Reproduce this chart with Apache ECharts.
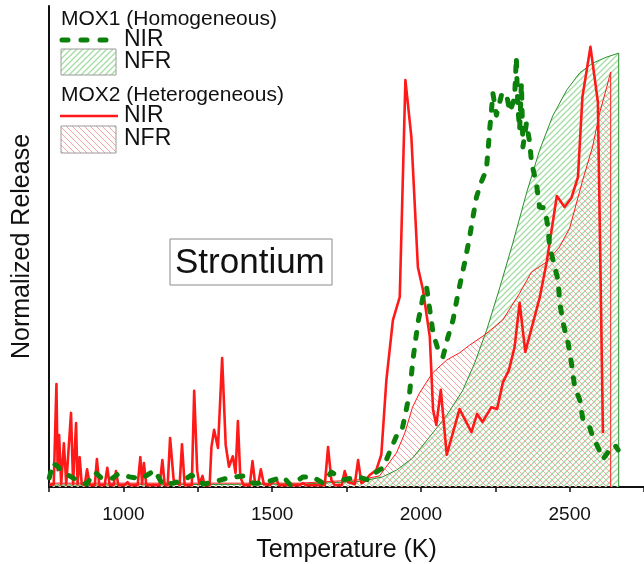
<!DOCTYPE html>
<html>
<head>
<meta charset="utf-8">
<script src="https://cdn.jsdelivr.net/npm/echarts@6/dist/echarts.min.js"></script>
<style>
  html, body { margin: 0; padding: 0; background: #fff; }
  #chart { width: 644px; height: 564px; }
</style>
</head>
<body>
<div id="chart"></div>
<script>
// Temperature (K) / normalized release pairs for each curve.
const mox1Nir = [[751,.019],[763,.050],[780,.042],[797,.031],[814,.025],[842,.015],[876,.006],[904,.031],[926,.019],[960,.017],[982,.027],[1021,.021],[1061,.017],[1105,.035],[1133,.004],[1167,.008],[1206,.015],[1229,.025],[1268,.006],[1301,.010],[1352,.019],[1402,.023],[1436,.008],[1469,.008],[1537,.021],[1562,.004],[1604,.021],[1637,.021],[1671,.008],[1699,.031],[1738,.015],[1789,.021],[1822,.015],[1845,.029],[1873,.040],[1895,.073],[1918,.106],[1935,.114],[1946,.146],[1962,.195],[1974,.268],[1990,.341],[2007,.395],[2019,.416],[2030,.368],[2041,.320],[2058,.285],[2074,.270],[2091,.312],[2108,.347],[2125,.403],[2147,.466],[2164,.520],[2175,.561],[2187,.603],[2203,.634],[2220,.659],[2226,.701],[2231,.742],[2237,.780],[2242,.819],[2254,.773],[2271,.815],[2287,.819],[2299,.780],[2315,.809],[2321,.894],[2323,.846],[2326,.790],[2332,.742],[2338,.840],[2343,.707],[2355,.757],[2366,.715],[2372,.674],[2388,.632],[2399,.582],[2416,.580],[2427,.541],[2433,.499],[2444,.472],[2461,.430],[2467,.383],[2478,.341],[2495,.299],[2506,.258],[2517,.208],[2534,.181],[2545,.139],[2567,.125],[2579,.102],[2595,.083],[2612,.058],[2635,.077],[2652,.087],[2663,.077]];

const mox1Nfr = [[750,.004],[1600,.006],[1800,.012],[1871,.021],[1918,.035],[1972,.060],[2029,.104],[2086,.148],[2140,.200],[2181,.258],[2221,.326],[2265,.414],[2309,.507],[2356,.613],[2399,.700],[2443,.771],[2490,.825],[2534,.861],[2577,.881],[2625,.894],[2665,.902],[2665,0]];

const mox2Nir = [[752,.004],[766,.006],[775,.214],[779,.035],[784,.108],[791,.006],[800,.091],[808,.006],[824,.154],[831,.006],[841,.133],[846,.006],[853,.062],[860,.006],[870,.004],[878,.037],[887,.004],[904,.004],[911,.058],[919,.004],[937,.004],[946,.040],[954,.004],[967,.004],[975,.033],[983,.004],[1004,.004],[1014,.010],[1021,.004],[1048,.004],[1057,.062],[1063,.006],[1069,.050],[1077,.004],[1105,.004],[1122,.004],[1131,.056],[1139,.004],[1149,.004],[1157,.102],[1169,.015],[1189,.004],[1197,.089],[1206,.004],[1230,.004],[1238,.200],[1248,.035],[1255,.006],[1266,.023],[1273,.004],[1290,.004],[1296,.083],[1305,.119],[1318,.081],[1332,.268],[1344,.087],[1355,.042],[1368,.064],[1377,.029],[1385,.137],[1393,.021],[1404,.004],[1425,.004],[1434,.054],[1443,.006],[1453,.006],[1462,.037],[1472,.006],[1492,.004],[1514,.017],[1522,.004],[1593,.004],[1604,.008],[1613,.004],[1677,.004],[1688,.083],[1699,.015],[1710,.004],[1734,.004],[1744,.033],[1755,.010],[1778,.006],[1789,.056],[1800,.008],[1811,.012],[1828,.025],[1850,.035],[1867,.067],[1884,.222],[1906,.347],[1929,.395],[1948,.846],[1968,.728],[1990,.457],[2007,.410],[2030,.312],[2041,.160],[2052,.129],[2067,.202],[2087,.067],[2130,.162],[2170,.114],[2189,.152],[2207,.135],[2237,.166],[2256,.162],[2276,.218],[2296,.243],[2315,.291],[2332,.383],[2351,.281],[2399,.393],[2423,.468],[2457,.605],[2483,.582],[2506,.601],[2528,.644],[2543,.811],[2570,.915],[2595,.800],[2612,.112]];

const mox2Nfr = [[750,.008],[1593,.008],[1794,.015],[1861,.023],[1918,.071],[1946,.112],[1972,.166],[1995,.195],[2039,.237],[2087,.264],[2130,.279],[2164,.295],[2214,.316],[2275,.347],[2332,.403],[2372,.447],[2423,.468],[2466,.499],[2500,.538],[2544,.638],[2577,.707],[2601,.778],[2625,.832],[2638,.863],[2638,0]];

const xLabelValues = [1000, 1500, 2000, 2500];

const FONT = '"Liberation Sans", Arial, sans-serif';
const GREEN = '#0b800b';
const GREEN_THIN = '#2a8f2a';
const RED = '#ff1a1a';

// Diagonal hatch tile: dir > 0 draws "/", otherwise "\".
function hatch(color, dir, width) {
  const s = 6;
  const c = document.createElement('canvas');
  c.width = s; c.height = s;
  const g = c.getContext('2d');
  g.strokeStyle = color;
  g.lineWidth = width;
  g.beginPath();
  if (dir > 0) {
    g.moveTo(0, s); g.lineTo(s, 0);
    g.moveTo(-1, 1); g.lineTo(1, -1);
    g.moveTo(s - 1, s + 1); g.lineTo(s + 1, s - 1);
  } else {
    g.moveTo(0, 0); g.lineTo(s, s);
    g.moveTo(s - 1, -1); g.lineTo(s + 1, 1);
    g.moveTo(-1, s - 1); g.lineTo(1, s + 1);
  }
  g.stroke();
  return c;
}
const greenHatch = { image: hatch('#a4dda4', 1, 1.3), repeat: 'repeat' };
const redHatch = { image: hatch('#f6a4a4', -1, 1), repeat: 'repeat' };

const chart = echarts.init(document.getElementById('chart'), null, { renderer: 'canvas' });

// Text placed by its left edge and vertical middle.
const label = (x, y, text, size) => ({
  type: 'text', x, y,
  style: { text, fontSize: size, fontFamily: FONT, fill: '#111', align: 'left', verticalAlign: 'middle' }
});

chart.setOption({
  animation: false,
  backgroundColor: '#fff',
  grid: { left: 49, right: 0, top: 6, bottom: 77, outerBoundsMode: 'none', containLabel: false },
  xAxis: {
    type: 'value',
    min: 750, max: 2750, interval: 250,
    name: 'Temperature (K)',
    nameLocation: 'middle',
    nameGap: 51,
    nameTextStyle: { fontSize: 25, fontFamily: FONT, color: '#111' },
    axisLine: { lineStyle: { color: '#111', width: 2 } },
    axisTick: { inside: false, length: 5, lineStyle: { color: '#111', width: 1.5 } },
    axisLabel: {
      fontSize: 19, fontFamily: FONT, color: '#111', margin: 18,
      formatter: v => (xLabelValues.indexOf(v) >= 0 ? String(v) : '')
    },
    splitLine: { show: false }
  },
  yAxis: {
    type: 'value', min: 0, max: 1,
    name: 'Normalized Release',
    nameLocation: 'middle',
    nameGap: 14,
    nameTextStyle: { fontSize: 25, fontFamily: FONT, color: '#111' },
    axisLine: { show: true, lineStyle: { color: '#111', width: 2 } },
    axisTick: { show: false },
    axisLabel: { show: false },
    splitLine: { show: false }
  },
  series: [
    {
      name: 'MOX1 NFR', type: 'line', data: mox1Nfr, symbol: 'none',
      lineStyle: { color: GREEN_THIN, width: 1 },
      areaStyle: { color: greenHatch, opacity: 1 }
    },
    {
      name: 'MOX2 NFR', type: 'line', data: mox2Nfr, symbol: 'none',
      lineStyle: { color: RED, width: 1 },
      areaStyle: { color: redHatch, opacity: 1 }
    },
    {
      name: 'MOX2 NIR', type: 'line', data: mox2Nir, symbol: 'none',
      lineStyle: { color: RED, width: 2.6, join: 'round' }
    },
    {
      name: 'MOX1 NIR', type: 'line', data: mox1Nir, symbol: 'none',
      lineStyle: { color: GREEN, width: 5, type: [6, 12], cap: 'round', join: 'round' }
    }
  ],
  graphic: [
    label(61, 19, 'MOX1 (Homogeneous)', 21),
    {
      type: 'line', shape: { x1: 62, y1: 40, x2: 114, y2: 40 },
      style: { stroke: GREEN, lineWidth: 5, lineDash: [6, 13], lineCap: 'round' }
    },
    label(124, 40, 'NIR', 23),
    {
      type: 'rect', shape: { x: 61, y: 49, width: 55, height: 26 },
      style: { fill: greenHatch, stroke: '#9a9a9a', lineWidth: 1 }
    },
    label(124, 62, 'NFR', 23),
    label(61, 95, 'MOX2 (Heterogeneous)', 21),
    {
      type: 'line', shape: { x1: 60, y1: 116, x2: 118, y2: 116 },
      style: { stroke: RED, lineWidth: 2.6 }
    },
    label(124, 116, 'NIR', 23),
    {
      type: 'rect', shape: { x: 61, y: 126, width: 55, height: 27 },
      style: { fill: redHatch, stroke: '#9a9a9a', lineWidth: 1 }
    },
    label(124, 139, 'NFR', 23),
    {
      type: 'rect', shape: { x: 170, y: 239, width: 162, height: 46 },
      style: { fill: '#fff', stroke: '#8a8a8a', lineWidth: 1 }
    },
    label(175, 263, 'Strontium', 35)
  ]
});
</script>
</body>
</html>
